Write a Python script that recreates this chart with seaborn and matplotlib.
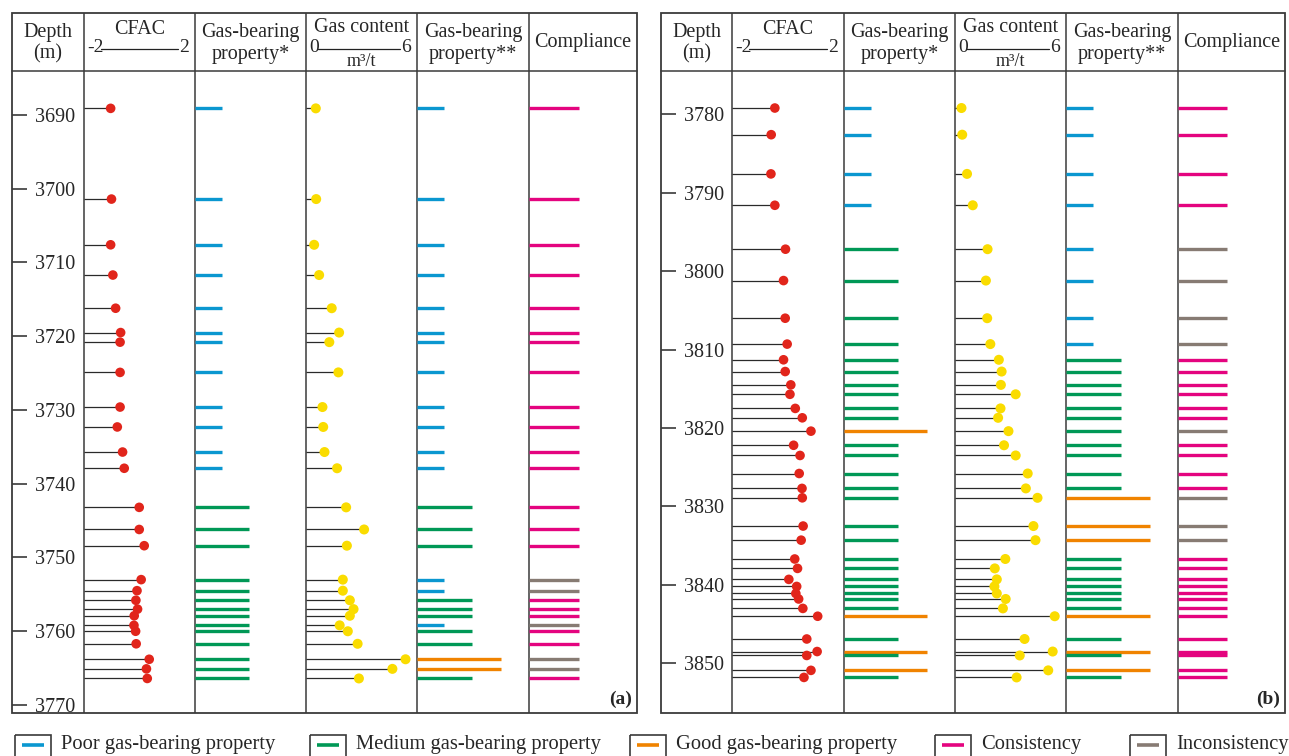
import matplotlib
matplotlib.use("Agg")
import matplotlib.pyplot as plt
import seaborn as sns
from matplotlib.patches import Rectangle

# ---------------- well section (a) ----------------
depth_a = [3689.1, 3701.4, 3707.6, 3711.7, 3716.2, 3719.5, 3720.8, 3724.9,
           3729.6, 3732.3, 3735.7, 3737.9, 3743.2, 3746.2, 3748.4, 3753.0,
           3754.5, 3755.8, 3757.0, 3757.9, 3759.2, 3760.0, 3761.7, 3763.8,
           3765.1, 3766.4]
cfac_a = [-1.04, -1.01, -1.04, -0.96, -0.86, -0.68, -0.70, -0.70,
          -0.70, -0.80, -0.61, -0.55, -0.01, -0.01, 0.17, 0.06,
          -0.09, -0.13, -0.07, -0.19, -0.20, -0.14, -0.12, 0.35,
          0.25, 0.28]
gas_a = [0.53, 0.55, 0.44, 0.71, 1.39, 1.79, 1.26, 1.75,
         0.89, 0.93, 1.00, 1.68, 2.17, 3.14, 2.21, 1.99,
         1.99, 2.37, 2.57, 2.37, 1.82, 2.26, 2.79, 5.38,
         4.67, 2.86]
# gas-bearing grade: P = poor, M = medium, G = good
grade1_a = ["P", "P", "P", "P", "P", "P", "P", "P", "P", "P", "P", "P",
            "M", "M", "M", "M", "M", "M", "M", "M", "M", "M", "M", "M",
            "M", "M"]
grade2_a = ["P", "P", "P", "P", "P", "P", "P", "P", "P", "P", "P", "P",
            "M", "M", "M", "P", "P", "M", "M", "M", "P", "M", "M", "G",
            "G", "M"]
depth_ticks_a = [3690, 3700, 3710, 3720, 3730, 3740, 3750, 3760, 3770]

# ---------------- well section (b) ----------------
depth_b = [3779.2, 3782.6, 3787.6, 3791.6, 3797.2, 3801.2, 3806.0, 3809.3,
           3811.3, 3812.8, 3814.5, 3815.7, 3817.5, 3818.7, 3820.4, 3822.2,
           3823.5, 3825.8, 3827.7, 3828.9, 3832.5, 3834.3, 3836.7, 3837.9,
           3839.3, 3840.2, 3841.1, 3841.8, 3843.0, 3844.0, 3846.9, 3848.5,
           3849.0, 3850.9, 3851.8]
cfac_b = [-0.47, -0.60, -0.61, -0.47, -0.09, -0.16, -0.10, -0.03,
          -0.16, -0.10, 0.10, 0.07, 0.26, 0.51, 0.82, 0.20,
          0.43, 0.40, 0.50, 0.51, 0.54, 0.47, 0.24, 0.34,
          0.03, 0.31, 0.28, 0.38, 0.53, 1.06, 0.67, 1.04,
          0.67, 0.82, 0.57]
gas_b = [0.35, 0.39, 0.65, 0.96, 1.76, 1.67, 1.74, 1.91,
         2.37, 2.52, 2.48, 3.28, 2.46, 2.33, 2.89, 2.65,
         3.28, 3.93, 3.83, 4.46, 4.24, 4.35, 2.72, 2.15,
         2.26, 2.13, 2.26, 2.74, 2.59, 5.39, 3.76, 5.28,
         3.50, 5.04, 3.33]
grade1_b = ["P", "P", "P", "P", "M", "M", "M", "M", "M", "M", "M", "M",
            "M", "M", "G", "M", "M", "M", "M", "M", "M", "M", "M", "M",
            "M", "M", "M", "M", "M", "G", "M", "G", "M", "G", "M"]
grade2_b = ["P", "P", "P", "P", "P", "P", "P", "P", "M", "M", "M", "M",
            "M", "M", "M", "M", "M", "M", "M", "G", "G", "G", "M", "M",
            "M", "M", "M", "M", "M", "G", "M", "G", "M", "G", "M"]
depth_ticks_b = [3780, 3790, 3800, 3810, 3820, 3830, 3840, 3850]

legend_labels = ["Poor gas-bearing property", "Medium gas-bearing property",
                 "Good gas-bearing property", "Consistency", "Inconsistency"]

# ---------------- styling ----------------
sns.set_theme(style="white")
plt.rcParams["font.family"] = ["Liberation Serif", "DejaVu Serif"]

BLUE, GREEN, ORANGE = "#0a97d0", "#009856", "#f08300"
PINK, GREY = "#e4047f", "#877b73"
RED, YELLOW = "#e1251b", "#fadc00"
EDGE, STEM = "#3a3a3a", "#2a2a2a"
grade_color = {"P": BLUE, "M": GREEN, "G": ORANGE}
grade_len = {"P": 0.24, "M": 0.49, "G": 0.75}

W, H = 1289, 756
TOP, HB, BOTTOM = 13, 71, 713
FS = 14.5

fig = plt.figure(figsize=(W / 100, H / 100), dpi=100)
frame = fig.add_axes([0, 0, 1, 1], zorder=0)
frame.set_xlim(0, W)
frame.set_ylim(H, 0)
frame.axis("off")


def px_axes(x0, y0, x1, y1):
    ax = fig.add_axes([x0 / W, 1 - y1 / H, (x1 - x0) / W, (y1 - y0) / H], zorder=2)
    ax.patch.set_alpha(0)
    return ax


def vline(x, y0, y1):
    frame.plot([x, x], [y0, y1], color=EDGE, lw=1.1, solid_capstyle="butt")


def scale_header(x0, x1, y, lo, hi):
    frame.text(x0 + 3, y, lo, ha="left", va="center", fontsize=FS - 0.5)
    frame.text(x1 - 6, y, hi, ha="right", va="center", fontsize=FS - 0.5)
    w_lo = 15 if lo.startswith("-") else 10
    frame.plot([x0 + 2 + w_lo, x1 - 17], [y + 1, y + 1], color="#222", lw=0.9)


def draw_panel(edges, depths, cfac, gas, g1, g2, ticks, ref, tag):
    x0, x1 = edges[0], edges[-1]
    frame.add_patch(Rectangle((x0, TOP), x1 - x0, BOTTOM - TOP, fill=False,
                              ec=EDGE, lw=1.3))
    frame.plot([x0, x1], [HB, HB], color=EDGE, lw=1.1)
    for xe in edges[1:-1]:
        vline(xe, TOP, BOTTOM)

    # header cells
    cx = [(edges[i] + edges[i + 1]) / 2 for i in range(6)]
    frame.text(cx[0], 32, "Depth", ha="center", va="center", fontsize=FS)
    frame.text(cx[0], 54, "(m)", ha="center", va="center", fontsize=FS)
    frame.text(cx[1], 29, "CFAC", ha="center", va="center", fontsize=FS)
    scale_header(edges[1], edges[2], 48, "-2", "2")
    frame.text(cx[2], 32, "Gas-bearing", ha="center", va="center", fontsize=FS)
    frame.text(cx[2], 54, "property*", ha="center", va="center", fontsize=FS)
    frame.text(cx[3], 28, "Gas content", ha="center", va="center", fontsize=FS)
    scale_header(edges[3], edges[4], 48, "0", "6")
    frame.text(cx[3], 61, "m³/t", ha="center", va="center", fontsize=FS - 1.5)
    frame.text(cx[4], 32, "Gas-bearing", ha="center", va="center", fontsize=FS)
    frame.text(cx[4], 54, "property**", ha="center", va="center", fontsize=FS)
    frame.text(cx[5], 42, "Compliance", ha="center", va="center", fontsize=FS)
    frame.text(x1 - 5, 699, tag, ha="right", va="center", fontsize=14,
               fontweight="bold")

    # depth scale from two reference rows
    (d_a, y_a), (d_b, y_b) = ref
    k = (y_b - y_a) / (d_b - d_a)
    d_top = d_a + (HB - y_a) / k
    d_bot = d_a + (BOTTOM - y_a) / k

    axes = [px_axes(edges[i], HB, edges[i + 1], BOTTOM) for i in range(6)]
    for ax in axes:
        ax.set_ylim(d_bot, d_top)

    # depth column
    ax = axes[0]
    ax.set_xlim(0, 1)
    for s in ax.spines.values():
        s.set_visible(False)
    ax.xaxis.set_visible(False)
    ax.set_yticks(ticks, labels=[str(t) for t in ticks], ha="left")
    ax.tick_params(axis="y", direction="in", length=10.5, width=1.2,
                   color=EDGE, pad=-16.5, labelsize=FS, left=True)
    ax.grid(False)

    # CFAC lollipops
    ax = axes[1]
    ax.hlines(depths, -2, cfac, colors=STEM, lw=0.9, zorder=2)
    sns.scatterplot(x=cfac, y=depths, ax=ax, color=RED, s=48,
                    edgecolor="none", zorder=3, clip_on=False, legend=False)
    ax.set_xlim(-2, 2)

    # gas content lollipops
    ax = axes[3]
    ax.hlines(depths, 0, gas, colors=STEM, lw=0.9, zorder=2)
    sns.scatterplot(x=gas, y=depths, ax=ax, color=YELLOW, s=52,
                    edgecolor="none", zorder=3, clip_on=False, legend=False)
    ax.set_xlim(0, 6)

    # gas-bearing grades
    for ax, grades in ((axes[2], g1), (axes[4], g2)):
        ax.hlines(depths, 0, [grade_len[g] for g in grades],
                  colors=[grade_color[g] for g in grades], lw=2.4,
                  capstyle="butt")
        ax.set_xlim(0, 1)

    # compliance between the two evaluations
    agree = [a == b for a, b in zip(g1, g2)]
    ax = axes[5]
    ax.hlines(depths, 0, 0.46, colors=[PINK if a else GREY for a in agree],
              lw=2.4, capstyle="butt")
    ax.set_xlim(0, 1)

    for ax in axes[1:]:
        ax.set_ylim(d_bot, d_top)
        ax.axis("off")


draw_panel([12, 84, 195, 306, 417, 529, 637], depth_a, cfac_a, gas_a,
           grade1_a, grade2_a, depth_ticks_a, ((3690, 115), (3770, 705)), "(a)")
draw_panel([661, 732, 844, 955, 1066, 1178, 1285], depth_b, cfac_b, gas_b,
           grade1_b, grade2_b, depth_ticks_b, ((3780, 114.3), (3850, 663.3)), "(b)")

# legend strip along the bottom
legend_colors = [BLUE, GREEN, ORANGE, PINK, GREY]
legend_x = [15, 310, 630, 935, 1130]
for lx, col, lab in zip(legend_x, legend_colors, legend_labels):
    frame.add_patch(Rectangle((lx, 735), 36, 30, fill=False, ec=EDGE, lw=1.2,
                              clip_on=False))
    frame.plot([lx + 7, lx + 29], [745, 745], color=col, lw=2.6,
               solid_capstyle="butt")
    frame.text(lx + 46, 745, lab, ha="left", va="center", fontsize=14.8)

fig.savefig("out.png", dpi=100)
